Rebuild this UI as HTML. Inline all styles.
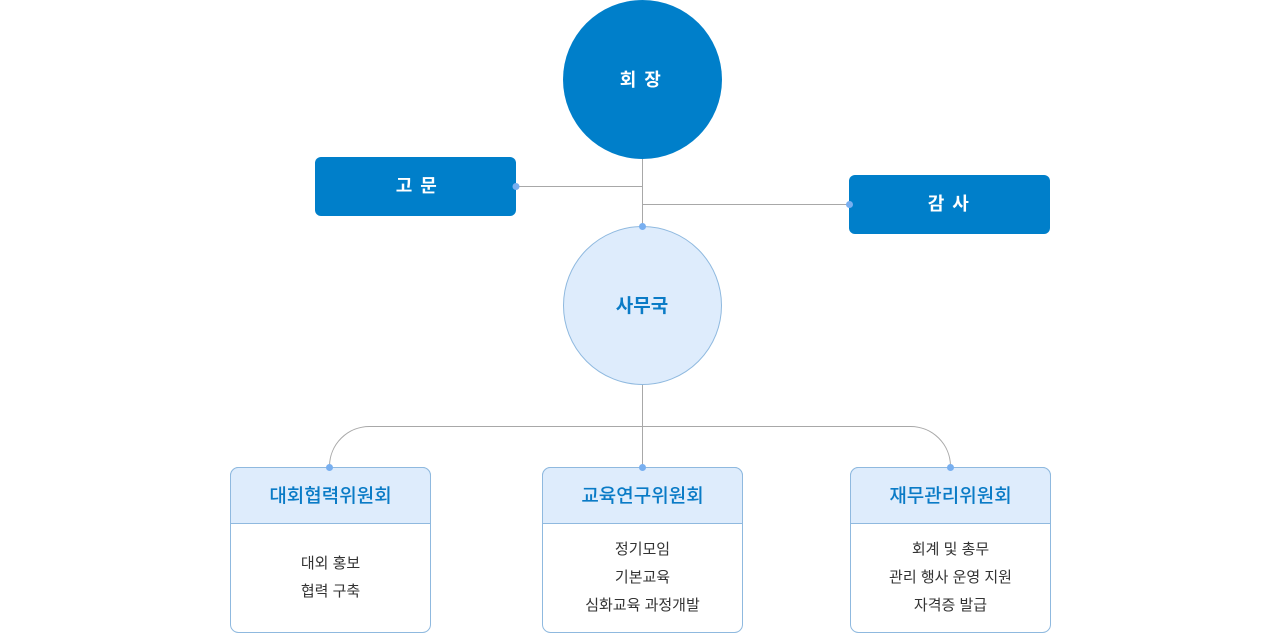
<!DOCTYPE html>
<html>
<head>
<meta charset="utf-8">
<style>
html,body{margin:0;padding:0;background:#fff;}
body{width:1281px;height:633px;overflow:hidden;}
svg text{font-family:"Liberation Sans","Noto Sans CJK KR",sans-serif;}
</style>
</head>
<body>
<svg width="1281" height="633" viewBox="0 0 1281 633" xmlns="http://www.w3.org/2000/svg">
  <!-- connectors -->
  <g stroke="#a8a8a8" stroke-width="1" fill="none">
    <line x1="642.5" y1="158" x2="642.5" y2="226"/>
    <line x1="516" y1="186.5" x2="642.5" y2="186.5"/>
    <line x1="642.5" y1="204.5" x2="849" y2="204.5"/>
    <line x1="642.5" y1="384" x2="642.5" y2="467"/>
    <path d="M329.5 467 L329.5 466 A40 40 0 0 1 369.5 426.5 L910.5 426.5 A40 40 0 0 1 950.5 466 L950.5 467"/>
  </g>

  <!-- top circle -->
  <circle cx="642.5" cy="79.5" r="79.5" fill="#007fca"/>
  <text x="641" y="86" text-anchor="middle" font-size="18" font-weight="bold" fill="#fff" letter-spacing="1.5">회 장</text>

  <!-- 고문 -->
  <rect x="315" y="157" width="201" height="59" rx="6" fill="#007fca"/>
  <text x="417" y="192" text-anchor="middle" font-size="18" font-weight="bold" fill="#fff" letter-spacing="1.5">고 문</text>

  <!-- 감사 -->
  <rect x="849" y="175" width="201" height="59" rx="6" fill="#007fca"/>
  <text x="949" y="210" text-anchor="middle" font-size="18" font-weight="bold" fill="#fff" letter-spacing="1.5">감 사</text>

  <!-- 사무국 -->
  <circle cx="642.5" cy="305.5" r="79" fill="#deecfc" stroke="#8fb9df" stroke-width="1"/>
  <text x="642" y="312" text-anchor="middle" font-size="19" font-weight="bold" fill="#0a7bc6">사무국</text>

  <!-- boxes -->
  <g>
    <rect x="230.5" y="467.5" width="200" height="165" rx="8" fill="#fff" stroke="#8fb9df"/>
    <path d="M230.5 523.5 L230.5 475.5 A8 8 0 0 1 238.5 467.5 L422.5 467.5 A8 8 0 0 1 430.5 475.5 L430.5 523.5 Z" fill="#deecfc" stroke="#8fb9df"/>
    <text x="330.5" y="502" text-anchor="middle" font-size="19" font-weight="500" fill="#0a7bc6">대회협력위원회</text>
    <text x="330.5" y="568" text-anchor="middle" font-size="15" fill="#333">대외 홍보</text>
    <text x="330.5" y="596" text-anchor="middle" font-size="15" fill="#333">협력 구축</text>
  </g>
  <g>
    <rect x="542.5" y="467.5" width="200" height="165" rx="8" fill="#fff" stroke="#8fb9df"/>
    <path d="M542.5 523.5 L542.5 475.5 A8 8 0 0 1 550.5 467.5 L734.5 467.5 A8 8 0 0 1 742.5 475.5 L742.5 523.5 Z" fill="#deecfc" stroke="#8fb9df"/>
    <text x="642.5" y="502" text-anchor="middle" font-size="19" font-weight="500" fill="#0a7bc6">교육연구위원회</text>
    <text x="642.5" y="554" text-anchor="middle" font-size="15" fill="#333">정기모임</text>
    <text x="642.5" y="582" text-anchor="middle" font-size="15" fill="#333">기본교육</text>
    <text x="642.5" y="610" text-anchor="middle" font-size="15" fill="#333">심화교육 과정개발</text>
  </g>
  <g>
    <rect x="850.5" y="467.5" width="200" height="165" rx="8" fill="#fff" stroke="#8fb9df"/>
    <path d="M850.5 523.5 L850.5 475.5 A8 8 0 0 1 858.5 467.5 L1042.5 467.5 A8 8 0 0 1 1050.5 475.5 L1050.5 523.5 Z" fill="#deecfc" stroke="#8fb9df"/>
    <text x="950.5" y="502" text-anchor="middle" font-size="19" font-weight="500" fill="#0a7bc6">재무관리위원회</text>
    <text x="950.5" y="554" text-anchor="middle" font-size="15" fill="#333">회계 및 총무</text>
    <text x="950.5" y="582" text-anchor="middle" font-size="15" fill="#333">관리 행사 운영 지원</text>
    <text x="950.5" y="610" text-anchor="middle" font-size="15" fill="#333">자격증 발급</text>
  </g>

  <!-- dots -->
  <g fill="#78aff0">
    <circle cx="516" cy="186.5" r="3.5"/>
    <circle cx="849.5" cy="204.5" r="3.5"/>
    <circle cx="642.5" cy="226.5" r="3.5"/>
    <circle cx="329.5" cy="467.5" r="3.5"/>
    <circle cx="642.5" cy="467.5" r="3.5"/>
    <circle cx="950.5" cy="467.5" r="3.5"/>
  </g>
</svg>
</body>
</html>
